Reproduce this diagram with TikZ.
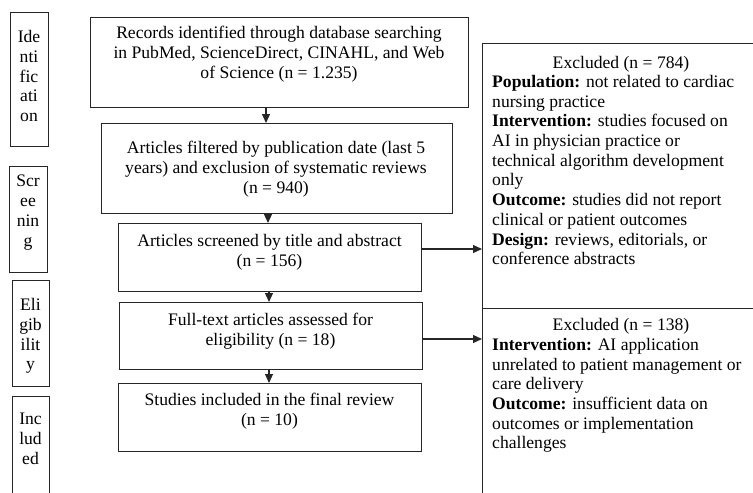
\documentclass[tikz,border=0pt]{standalone}
\usepackage{fontspec}
\setmainfont{Liberation Serif}
\usetikzlibrary{arrows.meta}
\begin{document}
\begin{tikzpicture}[x=1pt,y=-1pt,
  box/.style={draw=black!85, line width=1.2pt, inner sep=0pt, anchor=north west},
  txt/.style={font=\fontsize{17.6}{19.8}\selectfont, align=center, inner sep=0pt, anchor=north},
  body/.style={font=\fontsize{17.6}{19.7}\selectfont, align=left, inner sep=0pt, anchor=north west},
  arr/.style={draw=black!85, line width=1.2pt, -{Triangle[length=9pt,width=8pt]}}]
\useasboundingbox (0,0) rectangle (753,493);
% stage boxes
\node[box, minimum width=38pt, minimum height=134pt] (s1) at (10,12) {};
\node[box, minimum width=38pt, minimum height=106pt] (s2) at (9,166) {};
\node[box, minimum width=37pt, minimum height=106pt] (s3) at (12,280) {};
\node[box, minimum width=37pt, minimum height=130pt] (s4) at (12,396) {};
\node[txt] (s1t) at (29,30) {Ide\\nti\\fic\\ati\\on};
\node[txt] (s2t) at (28,175) {Scr\\ee\\nin\\g};
\node[txt] (s3t) at (30.5,298) {Eli\\gib\\ilit\\y};
\node[txt] (s4t) at (30.5,413) {Inc\\lud\\ed};
% main boxes
\node[box, minimum width=378pt, minimum height=90pt] (b1) at (90,17) {};
\node[box, minimum width=351pt, minimum height=90pt] (b2) at (101,123) {};
\node[box, minimum width=303pt, minimum height=68pt] (b3) at (118,223) {};
\node[box, minimum width=303pt, minimum height=67pt] (b4) at (119,302) {};
\node[box, minimum width=303pt, minimum height=68pt] (b5) at (118,383) {};
\node[txt] (b1t) at (279,26) {Records identified through database searching\\in PubMed, ScienceDirect, CINAHL, and Web\\of Science (n = 1.235)};
\node[txt] (b2t) at (276,141) {Articles filtered by publication date (last 5\\years) and exclusion of systematic reviews\\(n = 940)};
\node[txt] (b3t) at (269.5,234) {Articles screened by title and abstract\\(n = 156)};
\node[txt] (b4t) at (270.5,313) {Full-text articles assessed for\\eligibility (n = 18)};
\node[txt] (b5t) at (269.5,393) {Studies included in the final review\\(n = 10)};
% excluded boxes (extend past the page edge)
\node[box, minimum width=300pt, minimum height=265pt] (e1) at (482,43) {};
\node[box, minimum width=300pt, minimum height=220pt] (e2) at (482,308) {};
\node[txt] (e1h) at (621,56) {Excluded (n = 784)};
\node[body] (e1b) at (492,75) {\textbf{Population:} not related to cardiac\\nursing practice\\\textbf{Intervention:} studies focused on\\AI in physician practice or\\technical algorithm development\\only\\\textbf{Outcome:} studies did not report\\clinical or patient outcomes\\\textbf{Design:} reviews, editorials, or\\conference abstracts};
\node[txt] (e2h) at (621,318) {Excluded (n = 138)};
\node[body] (e2b) at (492,338) {\textbf{Intervention:} AI application\\unrelated to patient management or\\care delivery\\\textbf{Outcome:} insufficient data on\\outcomes or implementation\\challenges};
% arrows
\coordinate (v1) at (266,0);
\coordinate (v2) at (268,0);
\coordinate (v3) at (269,0);
\coordinate (h1) at (0,249);
\coordinate (h2) at (0,339);
\draw[arr] (b1.south -| v1) -- (b2.north -| v1);
\draw[arr] (b2.south -| v2) -- (b3.north -| v2);
\draw[arr] (b3.south -| v3) -- (b4.north -| v3);
\draw[arr] (b4.south -| v3) -- (b5.north -| v3);
\draw[arr] (b3.east |- h1) -- (e1.west |- h1);
\draw[arr] (b4.east |- h2) -- (e2.west |- h2);
\end{tikzpicture}
\end{document}
